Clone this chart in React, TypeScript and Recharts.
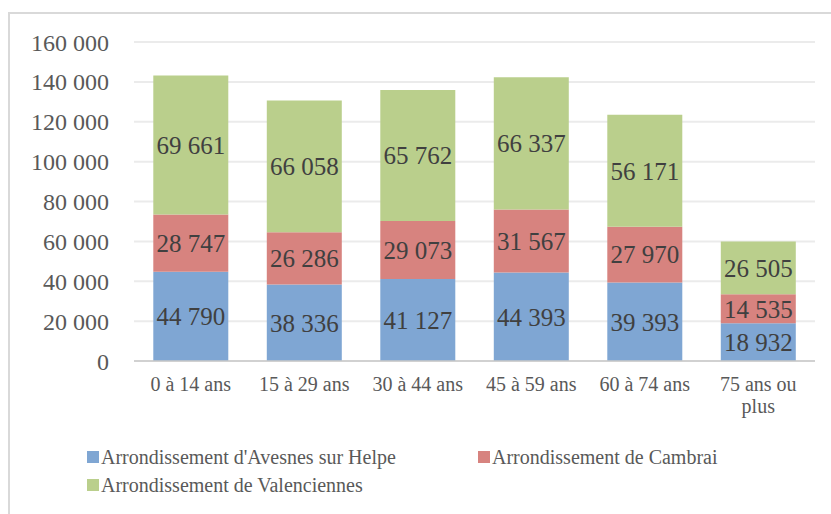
import React from 'react';
import { BarChart, Bar, XAxis, YAxis, CartesianGrid, Legend, LabelList } from 'recharts';

const categories = ['0 à 14 ans', '15 à 29 ans', '30 à 44 ans', '45 à 59 ans', '60 à 74 ans', '75 ans ou plus'];
const avesnes = [44790, 38336, 41127, 44393, 39393, 18932];
const cambrai = [28747, 26286, 29073, 31567, 27970, 14535];
const valenciennes = [69661, 66058, 65762, 66337, 56171, 26505];
const yTicks = [0, 20000, 40000, 60000, 80000, 100000, 120000, 140000, 160000];

const seriesNames = {
    avesnes: "Arrondissement d'Avesnes sur Helpe",
    cambrai: 'Arrondissement de Cambrai',
    valenciennes: 'Arrondissement de Valenciennes',
};

const colors = { avesnes: '#7FA6D3', cambrai: '#D7837F', valenciennes: '#BACF8C' };

const data = categories.map((name, i) => ({
    name,
    avesnes: avesnes[i],
    cambrai: cambrai[i],
    valenciennes: valenciennes[i],
}));

const FONT = '"Liberation Serif", "DejaVu Serif", serif';

const fmt = (v: number) => String(v).replace(/\B(?=(\d{3})+(?!\d))/g, ' ');

// long labels go on two lines, last word alone on the second
const CategoryTick = (props: any) => {
    const { x, y, payload } = props;
    const words = String(payload.value).split(' ');
    const lines = payload.value.length > 12 ? [words.slice(0, -1).join(' '), words[words.length - 1]] : [payload.value];
    return (
        <text x={x} y={y + 22} textAnchor="middle" fontFamily={FONT} fontSize={20} fill="#595959">
            {lines.map((l: string, i: number) => (
                <tspan key={i} x={x} dy={i === 0 ? 0 : 22}>{l}</tspan>
            ))}
        </text>
    );
};

const LegendContent = (props: any) => {
    const items = props.payload || [];
    return (
        <div style={{ display: 'grid', gridTemplateColumns: '391px 300px', rowGap: 4, paddingLeft: 87, fontFamily: FONT, fontSize: 20, color: '#595959' }}>
            {items.map((it: any) => (
                <div key={it.value} style={{ display: 'flex', alignItems: 'center', whiteSpace: 'nowrap', height: 24 }}>
                    <span style={{ width: 12, height: 12, background: it.color, marginRight: 2, display: 'inline-block', flexShrink: 0 }} />
                    <span>{it.value}</span>
                </div>
            ))}
        </div>
    );
};

export default function App() {
    return (
        <div style={{ position: 'absolute', left: 0, top: 0, width: 831, height: 514, background: '#fff', overflow: 'hidden' }}>
            <div style={{ position: 'absolute', left: 8, top: 12, width: 900, height: 560, border: '2px solid #D9D9D9', boxSizing: 'border-box' }} />
            <div style={{ position: 'absolute', left: 0, top: 0 }}>
                <BarChart width={831} height={514} data={data} barCategoryGap="17%"
                    margin={{ top: 42, right: 16, left: 0, bottom: 41 }}>
                    <CartesianGrid vertical={false} stroke="#EBEBEB" strokeWidth={2} />
                    <XAxis dataKey="name" height={60} interval={0} tickLine={false}
                        axisLine={{ stroke: '#C8C8C8', strokeWidth: 1.5 }} tick={<CategoryTick />} />
                    <YAxis width={134} domain={[0, 160000]} ticks={yTicks} tickFormatter={fmt}
                        axisLine={false} tickLine={false} tickMargin={19}
                        tick={{ fill: '#595959', fontSize: 24, fontFamily: FONT }} />
                    <Legend verticalAlign="bottom" align="left" content={<LegendContent />}
                        wrapperStyle={{ left: 0, bottom: 17 }} />
                    {(['avesnes', 'cambrai', 'valenciennes'] as const).map(key => (
                        <Bar key={key} dataKey={key} name={seriesNames[key]} stackId="a" fill={colors[key]} isAnimationActive={false}>
                            <LabelList dataKey={key} position="center" formatter={(v: any) => fmt(v)}
                                style={{ fill: '#404040', fontSize: 25, fontFamily: FONT }} />
                        </Bar>
                    ))}
                </BarChart>
            </div>
        </div>
    );
}
